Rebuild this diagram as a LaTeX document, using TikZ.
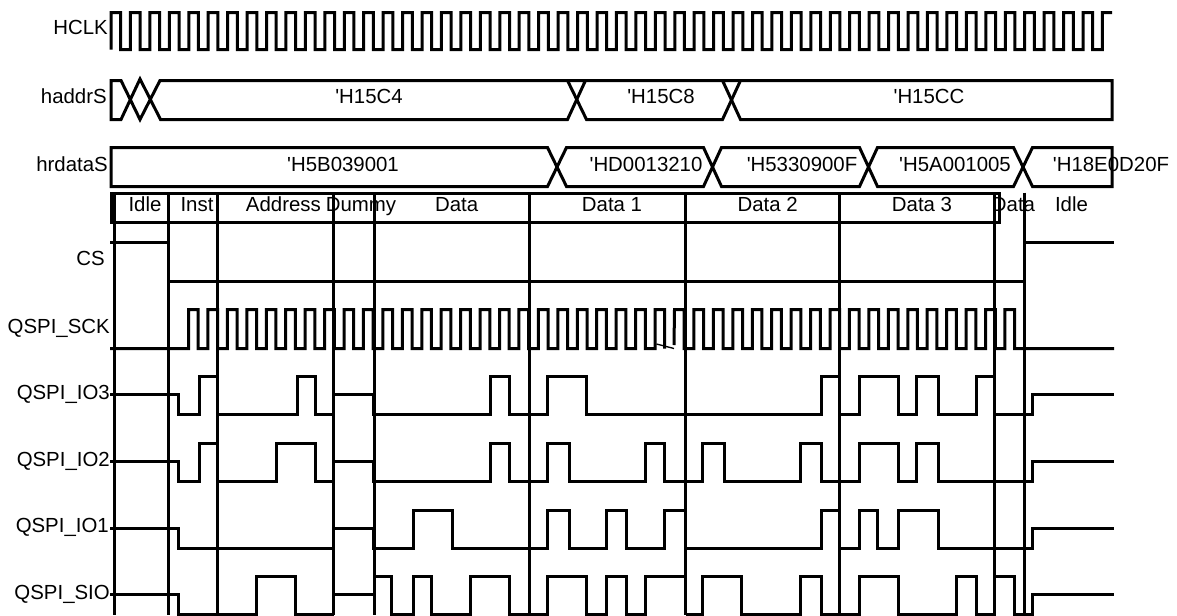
\documentclass[tikz,border=0pt]{standalone}
\usepackage{fontspec}
\newfontfamily\labelfont{Liberation Sans}
\tikzset{
  wave/.style={line width=2.25pt, black},
  txt/.style={font=\labelfont\fontsize{15.3}{18}\selectfont, inner sep=0pt, anchor=base},
  lbl/.style={font=\labelfont\fontsize{15.3}{18}\selectfont, inner sep=0pt, anchor=base east},
}
\begin{document}
\begin{tikzpicture}[x=0.75pt, y=-0.75pt]
  \useasboundingbox (0,0) rectangle (1177,615);

  % Signal names
  \node[lbl] (hclk) at (108,34) {HCLK};
  \node[lbl] (haddr) at (107,103) {haddrS};
  \node[lbl] (hrdata) at (108,171) {hrdataS};
  \node[lbl] (cs) at (105,265) {CS};
  \node[lbl] (sck) at (110,333) {QSPI\_SCK};
  \node[lbl] (iothree) at (110,399) {QSPI\_IO3};
  \node[lbl] (iotwo) at (110,466) {QSPI\_IO2};
  \node[lbl] (ioone) at (109,532) {QSPI\_IO1};
  \node[lbl] (sio) at (110,599) {QSPI\_SIO};

  % HCLK
  \draw[wave] (111,49.5)
    \foreach \k in {0,...,50} {
      -- ({111+19.44*\k},12.5) -- ({120.7+19.44*\k},12.5) -- ({120.7+19.44*\k},49.5) -- ({130.44+19.44*\k},49.5)
    } -- (1102.4,12.5) -- (1112,12.5);

  % Address bus
  \draw[wave] (1112,80.5) -- (160,80.5) -- (140,119.5) -- (121,80.5) -- (111,80.5) -- (111,119.5) -- (121,119.5) -- (140,79) -- (160.5,119.5) -- (567.5,119.5) -- (585.5,80.5) -- (722.5,80.5) -- (740.5,119.5) -- (1112,119.5) -- cycle;
  \draw[wave] (567.5,80.5) -- (586.5,119.5) -- (722.5,119.5) -- (740.5,80.5);
  \node[txt] (addra) at (369,103) {'H15C4};
  \node[txt] (addrb) at (661,103) {'H15C8};
  \node[txt] (addrc) at (929,103) {'H15CC};

  % Read data bus
  \draw[wave] (111,147.5) -- (547.5,147.5) -- (566.5,186.5) -- (703.5,186.5) -- (721.5,147.5) -- (859.5,147.5) -- (877.5,186.5) -- (1013.5,186.5) -- (1032.5,147.5) -- (1112,147.5) -- (1112,186.5) -- (1032.5,186.5) -- (1013.5,147.5) -- (877.5,147.5) -- (859.5,186.5) -- (721.5,186.5) -- (703.5,147.5) -- (566.5,147.5) -- (547.5,186.5) -- (111,186.5) -- cycle;
  \node[txt] (dataa) at (343,171) {'H5B039001};
  \node[txt] (datab) at (646,171) {'HD0013210};
  \node[txt] (datac) at (802,171) {'H5330900F};
  \node[txt] (datad) at (955,171) {'H5A001005};
  \node[txt] (datae) at (1111,171) {'H18E0D20F};

  % Phases
  \draw[wave] (111.5,193.5) rectangle (999.5,222.5);
  \foreach \x in {114.5,168.5,217.5,333.5,374.5,529.5,685.5,839.5,994.5,1024.5}
    \draw[wave] (\x,192.5) -- (\x,615);
  \node[txt] (idlea) at (145,211) {Idle};
  \node[txt] (inst) at (197,211) {Inst};
  \node[txt] (address) at (283.4,211) {Address};
  \node[txt] (dummy) at (361,211) {Dummy};
  \node[txt] (phdata) at (456.7,211) {Data};
  \node[txt] (phone) at (612,211) {Data 1};
  \node[txt] (phtwo) at (767.7,211) {Data 2};
  \node[txt] (phthree) at (922,211) {Data 3};
  \node[txt] (phlast) at (1013.5,211) {Data};
  \node[txt] (idleb) at (1071.5,211) {Idle};

  % CS
  \draw[wave] (110,242.5) -- (168.5,242.5);
  \draw[wave] (168.5,281.5) -- (1024.5,281.5);
  \draw[wave] (1024.5,242.5) -- (1114,242.5);

  % QSPI_SCK
  \draw[wave] (110,348.5) -- (188.5,348.5)
    \foreach \k in {0,...,23} {
      -- ({188.5+19.44*\k},309.5) -- ({198.2+19.44*\k},309.5) -- ({198.2+19.44*\k},348.5) -- ({207.94+19.44*\k},348.5)
    } -- (655,309.5) -- (664.7,309.5) -- (664.7,348.5);
  \draw[wave] (674,345)
    \foreach \k in {25,...,42} {
      -- ({188.5+19.44*\k},309.5) -- ({198.2+19.44*\k},309.5) -- ({198.2+19.44*\k},348.5) -- ({207.94+19.44*\k},348.5)
    } -- (1114,348.5);
  \draw[black, line width=1pt] (656.5,344) -- (674,348.5);

  % QSPI_IO3
  \draw[wave] (110,394.5) -| (178.5,414.5) -| (199.5,376.5) -- (217.5,376.5);
  \draw[wave] (217.5,414.5) -| (297.5,376.5) -| (315.5,414.5) -- (333.5,414.5);
  \draw[wave] (333.5,394.5) -| (373,414.5) -| (490.5,376.5) -| (509.5,414.5) -| (547.5,376.5) -| (586.5,414.5) -| (821.5,376.5) -- (839.5,376.5);
  \draw[wave] (839.5,414.5) -| (859.5,376.5) -| (898.5,414.5) -| (916.5,376.5) -| (938.5,414.5) -| (976.5,376.5) -- (994.5,376.5);
  \draw[wave] (994.5,414.5) -| (1032.5,394.5) -- (1114,394.5);

  % QSPI_IO2
  \draw[wave] (110,461.5) -| (178.5,481.5) -| (199.5,443.5) -- (217.5,443.5);
  \draw[wave] (217.5,481.5) -| (276.5,443.5) -| (315.5,481.5) -- (335,481.5);
  \draw[wave] (335,461.5) -| (373,481.5) -| (490.5,443.5) -| (509.5,481.5) -| (547.5,443.5) -| (569.5,481.5) -| (645.5,443.5) -| (664.5,481.5) -| (702.5,443.5) -| (724.5,481.5) -| (800.5,443.5) -| (821.5,481.5) -| (859.5,443.5) -| (898.5,481.5) -| (916.5,443.5) -| (938.5,481.5) -| (1032.5,461.5) -- (1114,461.5);

  % QSPI_IO1
  \draw[wave] (110,528.5) -| (178.5,548.5) -- (333.5,548.5);
  \draw[wave] (333.5,528.5) -| (373,548.5) -| (413.5,510.5) -| (452.5,548.5) -| (547.5,510.5) -| (569.5,548.5) -| (606.5,510.5) -| (626.5,548.5) -| (664.5,510.5) -- (685.5,510.5);
  \draw[wave] (685.5,548.5) -| (821.5,510.5) -- (839.5,510.5);
  \draw[wave] (839.5,548.5) -| (859.5,510.5) -| (877.5,548.5) -| (898.5,510.5) -| (938.5,548.5) -| (1032.5,528.5) -- (1114,528.5);

  % QSPI_SIO
  \draw[wave] (110,594.5) -| (178.5,614.5) -| (256.5,576.5) -| (295.5,614.5) -- (333.5,614.5);
  \draw[wave] (333.5,594.5) -- (373,594.5);
  \draw[wave] (373,576.5) -| (391.5,614.5) -| (413.5,576.5) -| (431.5,614.5) -| (470.5,576.5) -| (509.5,614.5) -| (547.5,576.5) -| (586.5,614.5) -| (606.5,576.5) -| (626.5,614.5) -| (645.5,576.5) -- (685.5,576.5);
  \draw[wave] (685.5,614.5) -| (702.5,576.5) -| (741.5,614.5) -| (800.5,576.5) -| (821.5,614.5) -| (859.5,576.5) -| (898.5,614.5) -| (956.5,576.5) -| (976.5,614.5) -| (994.5,576.5) -| (1014.5,614.5) -| (1032.5,594.5) -- (1114,594.5);
\end{tikzpicture}
\end{document}
